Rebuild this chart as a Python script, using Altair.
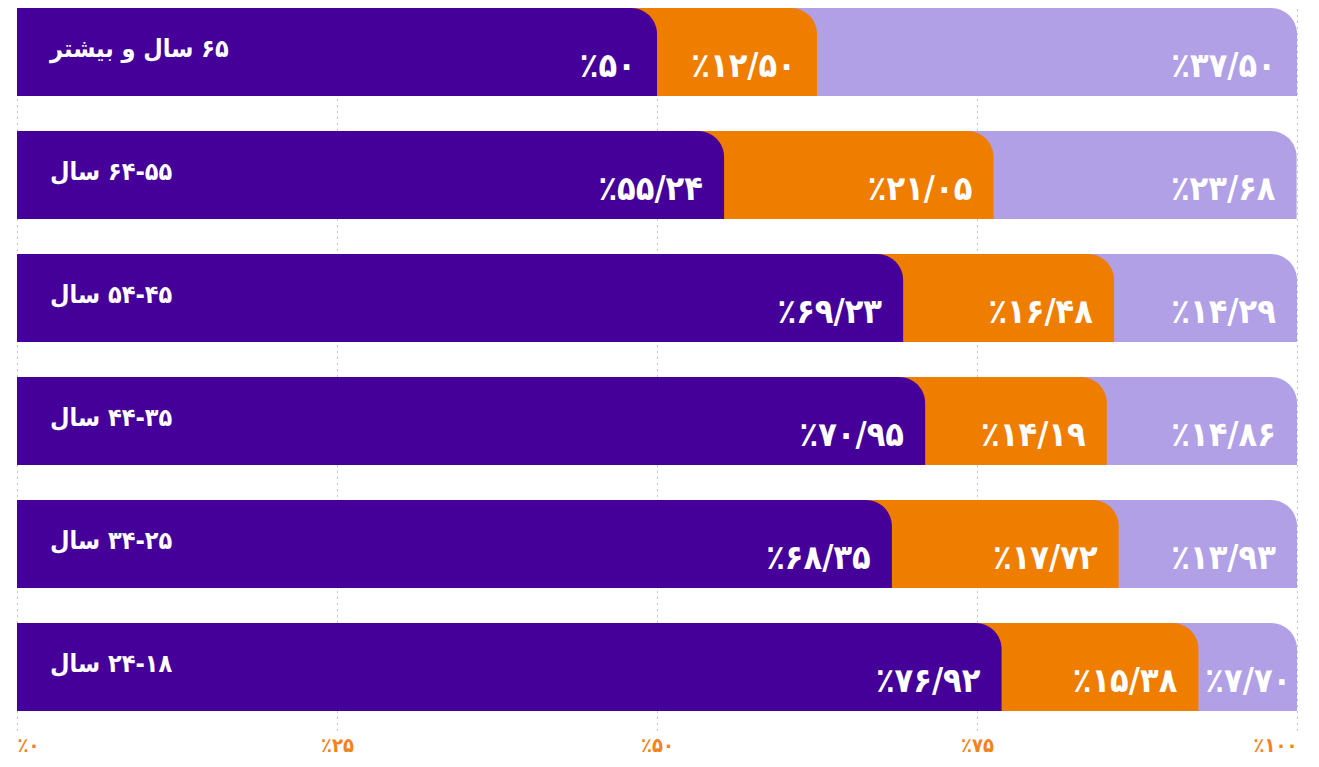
import altair as alt
import pandas as pd

# ---- data ----
categories = ["۶۵ سال و بیشتر", "۵۵-۶۴ سال", "۴۵-۵۴ سال", "۳۵-۴۴ سال", "۲۵-۳۴ سال", "۱۸-۲۴ سال"]
cat_display = ["۶۵ سال و بیشتر", "۶۴-۵۵ سال", "۵۴-۴۵ سال", "۴۴-۳۵ سال", "۳۴-۲۵ سال", "۲۴-۱۸ سال"]
share_a = [50.00, 55.24, 69.23, 70.95, 68.35, 76.92]   # dark purple
share_b = [12.50, 21.05, 16.48, 14.19, 17.72, 15.38]   # orange
share_c = [37.50, 23.68, 14.29, 14.86, 13.93, 7.70]    # light purple
label_a = ["٪۵۰", "٪۵۵/۲۴", "٪۶۹/۲۳", "٪۷۰/۹۵", "٪۶۸/۳۵", "٪۷۶/۹۲"]
label_b = ["٪۱۲/۵۰", "٪۲۱/۰۵", "٪۱۶/۴۸", "٪۱۴/۱۹", "٪۱۷/۷۲", "٪۱۵/۳۸"]
label_c = ["٪۳۷/۵۰", "٪۲۳/۶۸", "٪۱۴/۲۹", "٪۱۴/۸۶", "٪۱۳/۹۳", "٪۷/۷۰"]
tick_values = [0, 25, 50, 75, 100]
tick_labels = ["٪۰", "٪۲۵", "٪۵۰", "٪۷۵", "٪۱۰۰"]

C_DARK = "#46009A"
C_ORANGE = "#EF7D00"
C_LIGHT = "#B1A0E6"
C_AXIS = "#F58220"
FONT = "DejaVu Sans Condensed"

rows = []
for i, cat in enumerate(categories):
    a, b, c = share_a[i], share_b[i], share_c[i]
    rows.append({
        "cat": cat,
        "cat_text": "\u202b" + cat_display[i] + "\u202c",
        "end_a": a, "end_b": a + b, "end_c": a + b + c,
        "w_a": a, "w_b": b, "w_c": c,
        "lab_a": label_a[i], "lab_b": label_b[i], "lab_c": label_c[i],
    })
df = pd.DataFrame(rows)

W, H = 1280, 722
n = len(categories)
step = 123.0
bar_h = 88.0
p_inner = 1 - bar_h / step
p_outer = (H / step - (n - p_inner)) / 2

label_expr = "".join(
    f"datum.value == {v} ? '{t}' : " for v, t in zip(tick_values, tick_labels)
) + "''"

x_scale = alt.Scale(domain=[0, 100], nice=False, zero=True)
x_axis = alt.Axis(
    values=tick_values, labelExpr=label_expr, title=None,
    grid=True, gridDash=[1, 5], gridColor="#8c8c8c", gridWidth=1,
    domain=False, ticks=False, labelColor=C_AXIS, labelFont=FONT,
    labelFontSize=20, labelFontWeight="bold", labelPadding=5,
)
y_enc = alt.Y("cat:N", sort=categories, axis=None,
              scale=alt.Scale(paddingInner=p_inner, paddingOuter=p_outer, align=0))

def xq(field):
    return alt.X(f"{field}:Q", scale=x_scale, axis=x_axis, stack=None)

base = alt.Chart(df)

bar_c = base.mark_bar(color=C_LIGHT, cornerRadiusTopRight=26).encode(x=xq("end_c"), y=y_enc)
bar_b = base.mark_bar(color=C_ORANGE, cornerRadiusTopRight=26).encode(x=xq("end_b"), y=y_enc)
bar_a = base.mark_bar(color=C_DARK, cornerRadiusTopRight=26).encode(x=xq("end_a"), y=y_enc)

def value_text(end_field, w_field, lab_field):
    return base.transform_calculate(
        pos=f"datum.{w_field} < 10 ? datum.{end_field} - 0.45 : datum.{end_field} - 1.65"
    ).mark_text(
        align="right", baseline="alphabetic", dy=25, color="white",
        font=FONT, fontSize=34, fontWeight="bold",
    ).encode(x=xq("pos"), y=y_enc, text=f"{lab_field}:N")

txt_a = value_text("end_a", "w_a", "lab_a")
txt_b = value_text("end_b", "w_b", "lab_b")
txt_c = value_text("end_c", "w_c", "lab_c")

cat_txt = base.transform_calculate(zero="0").mark_text(
    align="left", baseline="alphabetic", dx=33, dy=5, color="white",
    font=FONT, fontSize=25, fontWeight="bold",
).encode(x=xq("zero"), y=y_enc, text="cat_text:N")

chart = alt.layer(bar_c, bar_b, bar_a, txt_c, txt_b, txt_a, cat_txt).properties(
    width=W, height=H,
    padding={"left": 9, "top": 0, "right": 14, "bottom": 28},
    autosize=alt.AutoSizeParams(type="none"),
    background="white",
).configure_view(stroke=None)

chart.save("out.html", embed_options={"renderer": "svg", "actions": False})
